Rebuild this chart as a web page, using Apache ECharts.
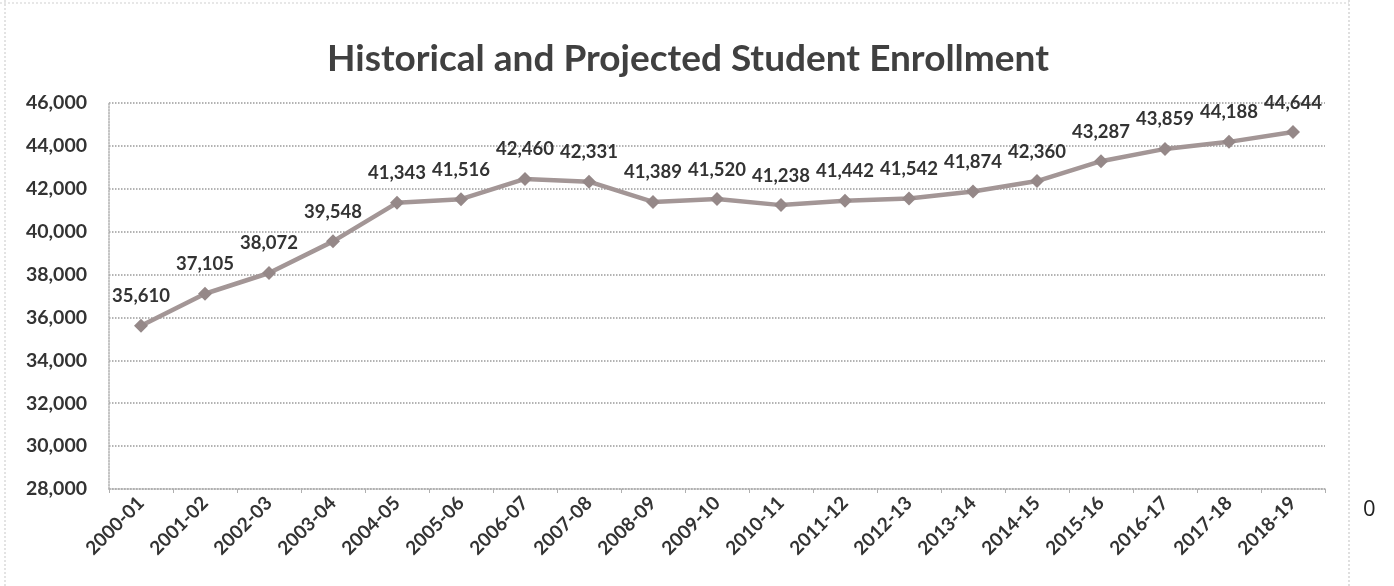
<!DOCTYPE html>
<html>
<head>
<meta charset="utf-8">
<script src="https://cdn.jsdelivr.net/npm/echarts@6/dist/echarts.min.js"></script>
<style>html,body{margin:0;padding:0;background:#fff;}#c{width:1394px;height:586px;}</style>
</head>
<body>
<div id="c"></div>
<script>
const categories = ['2000-01','2001-02','2002-03','2003-04','2004-05','2005-06','2006-07','2007-08','2008-09','2009-10','2010-11','2011-12','2012-13','2013-14','2014-15','2015-16','2016-17','2017-18','2018-19'];
const enrollment = [35610,37105,38072,39548,41343,41516,42460,42331,41389,41520,41238,41442,41542,41874,42360,43287,43859,44188,44644];
const yMin = 28000, yMax = 46000, yStep = 2000;
const titleText = 'Historical and Projected Student Enrollment';
const sideText = '0';

const chart = echarts.init(document.getElementById('c'));
const font = 'Lato, "Open Sans", sans-serif';
chart.setOption({
  backgroundColor: '#fff',
  animation: false,
  title: {
    text: titleText, left: 322, top: 36,
    textStyle: {fontFamily: font, fontWeight: 'bold', fontSize: 37, color: '#404040'}
  },
  grid: {left: 109, right: 69, top: 103, bottom: 97},
  xAxis: {
    type: 'category', data: categories, boundaryGap: true,
    axisLine: {lineStyle: {color: '#b0b0b0', type: 'dotted', width: 1.5}},
    axisTick: {show: true, lineStyle: {color: '#b0b0b0'}, length: 4},
    axisLabel: {rotate: 45, fontFamily: font, fontWeight: 'bold', fontSize: 19, color: '#333', margin: 11, interval: 0}
  },
  yAxis: {
    type: 'value', min: yMin, max: yMax, interval: yStep,
    axisLine: {show: true, lineStyle: {color: '#b0b0b0', type: 'dotted', width: 1.5}},
    axisTick: {show: false},
    splitLine: {lineStyle: {color: '#9a9a9a', type: 'dotted', width: 1.5}},
    axisLabel: {fontFamily: font, fontWeight: 'bold', fontSize: 19.5, color: '#333', margin: 22,
      formatter: v => v.toLocaleString('en-US')}
  },
  series: [{
    type: 'line', data: enrollment,
    symbol: 'diamond', symbolSize: 14,
    lineStyle: {color: '#a39696', width: 4.5},
    itemStyle: {color: '#958888'},
    label: {show: true, position: 'top', distance: 13, fontFamily: font, fontWeight: 'bold', fontSize: 18.5, color: '#333',
      formatter: p => p.value.toLocaleString('en-US')}
  }],
  graphic: [
    {type: 'line', shape: {x1: 5, y1: 0, x2: 5, y2: 586}, style: {stroke: '#c8c8c8', lineWidth: 1, lineDash: [2, 2]}},
    {type: 'line', shape: {x1: 0, y1: 3, x2: 1349, y2: 3}, style: {stroke: '#d0d0d0', lineWidth: 1, lineDash: [2, 2]}},
    {type: 'line', shape: {x1: 1349, y1: 0, x2: 1349, y2: 586}, style: {stroke: '#c0c0c0', lineWidth: 1, lineDash: [2, 2]}},
    {type: 'text', left: 1363, top: 499, style: {text: sideText, font: '22px "Open Sans", sans-serif', fill: '#222'}}
  ]
});
</script>
</body>
</html>
